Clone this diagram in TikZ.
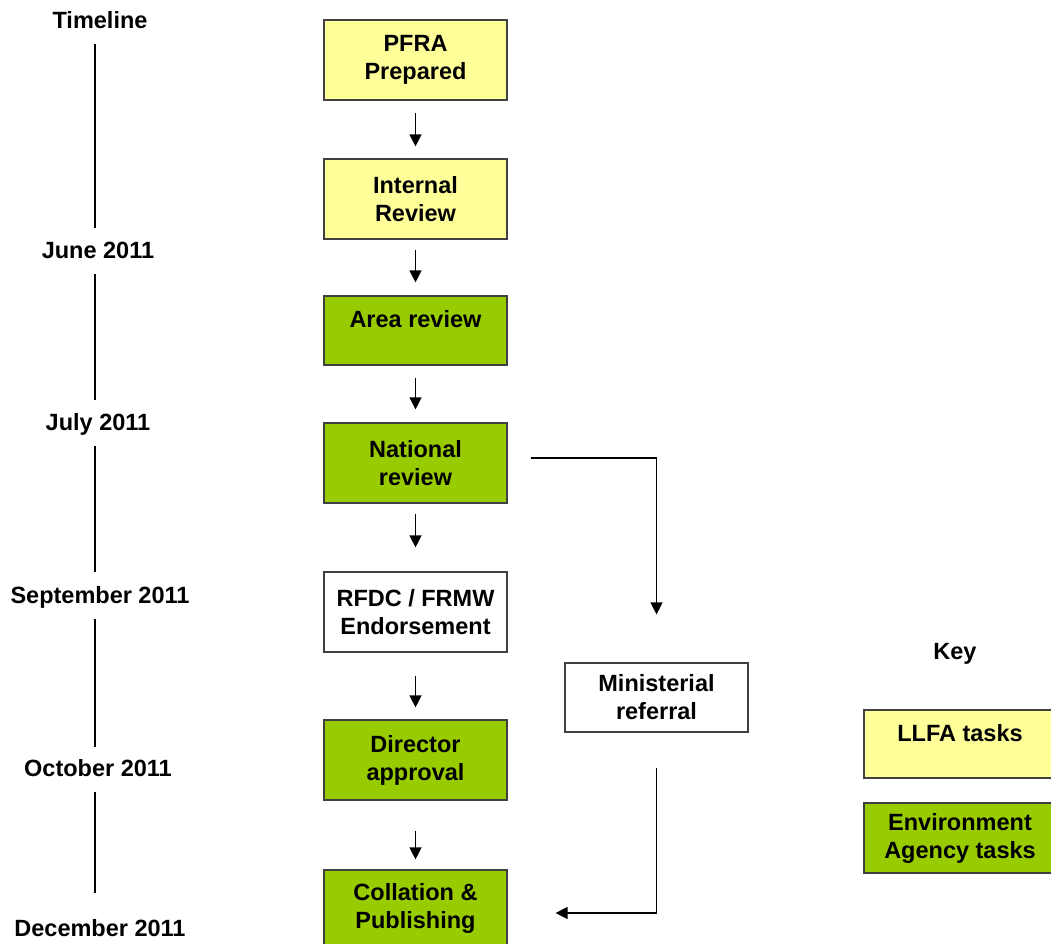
\documentclass[tikz,border=0pt]{standalone}
\usepackage{fontspec}
\setmainfont{Liberation Sans}
\usetikzlibrary{arrows.meta,calc}
\definecolor{llfa}{HTML}{FFFF99}
\definecolor{ea}{HTML}{99CC00}
\definecolor{bord}{HTML}{404040}
\begin{document}
\begin{tikzpicture}[x=1pt,y=-1pt,
  every node/.style={font=\fontsize{23.5}{28}\selectfont\bfseries, align=center, inner sep=0pt},
  task/.style={draw=bord, line width=1.2pt, minimum width=183pt, minimum height=80pt},
  yel/.style={task, fill=llfa},
  grn/.style={task, fill=ea},
  wht/.style={task, fill=white},
  oneline/.style={text height=10pt, text depth=16pt},
  tlabel/.style={text height=17pt, text depth=5pt},
  arr/.style={-{Triangle[width=12pt,length=12pt]}, line width=1.3pt},
  tl/.style={line width=1.2pt}]
\useasboundingbox (0,0) rectangle (1051,944);
\clip (0,0) rectangle (1051,944);

% timeline
\coordinate (tx) at (95,0);
\node[tlabel] (tlh) at (100,23) {Timeline};
\node[tlabel] (jun) at (98,252) {June 2011};
\node[tlabel] (jul) at (98,424) {July 2011};
\node[tlabel] (sep) at (100,597) {September 2011};
\node[tlabel] (oct) at (98,770) {October 2011};
\node[tlabel] (dec) at (100,930) {December 2011};
\draw[tl] ($(tlh.south -| tx)+(0,10)$) -- ($(jun.north -| tx)+(0,-13)$);
\draw[tl] ($(jun.south -| tx)+(0,11)$) -- ($(jul.north -| tx)+(0,-13)$);
\draw[tl] ($(jul.south -| tx)+(0,11)$) -- ($(sep.north -| tx)+(0,-14)$);
\draw[tl] ($(sep.south -| tx)+(0,11)$) -- ($(oct.north -| tx)+(0,-12)$);
\draw[tl] ($(oct.south -| tx)+(0,11)$) -- ($(dec.north -| tx)+(0,-26)$);

% main column
\node[yel] (pfra) at (415.5,60) {PFRA\\Prepared};
\node[yel] (internal) at (415.5,199) {Internal\\Review};
\node[grn, minimum height=69pt, oneline] (area) at (415.5,330.5) {Area review};
\node[grn] (national) at (415.5,463) {National\\review};
\node[wht] (rfdc) at (415.5,612) {RFDC / FRMW\\Endorsement};
\node[grn] (director) at (415.5,760) {Director\\approval};
\node[grn, minimum height=76pt] (collation) at (415.5,908) {Collation \&\\Publishing};
\node[wht, minimum height=69pt] (minist) at (656.5,697.5) {Ministerial\\referral};

\draw[arr] ([yshift=-12pt]pfra.south) -- ([yshift=12pt]internal.north);
\draw[arr] ([yshift=-10pt]internal.south) -- ([yshift=13pt]area.north);
\draw[arr] ([yshift=-12pt]area.south) -- ([yshift=13pt]national.north);
\draw[arr] ([yshift=-10pt]national.south) -- ([yshift=24pt]rfdc.north);
\draw[arr] ([yshift=-23pt]rfdc.south) -- ([yshift=12pt]director.north);
\draw[arr] ([yshift=-30pt]director.south) -- ([yshift=10pt]collation.north);

\draw[arr] ([xshift=23pt,yshift=5pt]national.east) -| ([yshift=48pt]minist.north);
\draw[arr] ([yshift=-35pt]minist.south) |- ([xshift=48pt,yshift=-5pt]collation.east);

% key
\node (key) at (955,654) {Key};
\node[yel, minimum width=192pt, minimum height=68pt, oneline] (kl) at (960,744) {LLFA tasks};
\node[grn, minimum width=192pt, minimum height=70pt] (ke) at (960,838) {Environment\\Agency tasks};
\end{tikzpicture}
\end{document}
